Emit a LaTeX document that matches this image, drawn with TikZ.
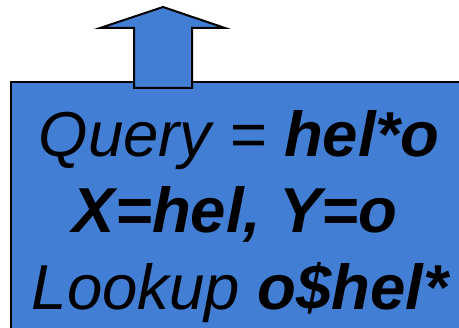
\documentclass[tikz,border=0pt]{standalone}
\usepackage{fontspec}
\setmainfont{Liberation Sans}
\definecolor{boxblue}{RGB}{66,126,211}
\begin{document}
\begin{tikzpicture}[x=1pt,y=-1pt,
  panel/.style={draw=black,line width=2pt,fill=boxblue},
  textline/.style={anchor=base,inner sep=0pt,font=\fontsize{63.5}{76}\selectfont\itshape}]
  \useasboundingbox (0,0) rectangle (459,328);
  \clip (0,0) rectangle (459,328);
  % main box, running off the right and bottom edges
  \node[panel,minimum width=470pt,minimum height=270pt,anchor=north west,inner sep=0pt] (box) at (10,81) {};
  % block arrow pointing up out of the box
  \draw[panel,line join=miter] (134,88) -- (134,28) -- (100,28) -- (163,7) -- (225,28)
        -- (192,28) -- (192,88) -- cycle;
  % text lines
  \node[textline] (line1) at (239,157) {Query = \textbf{hel*o}};
  \node[textline] (line2) at (235,233) {\textbf{X=hel, Y=o}};
  \node[textline] (line3) at (240,310) {Lookup \textbf{o\$hel*}};
\end{tikzpicture}
\end{document}
